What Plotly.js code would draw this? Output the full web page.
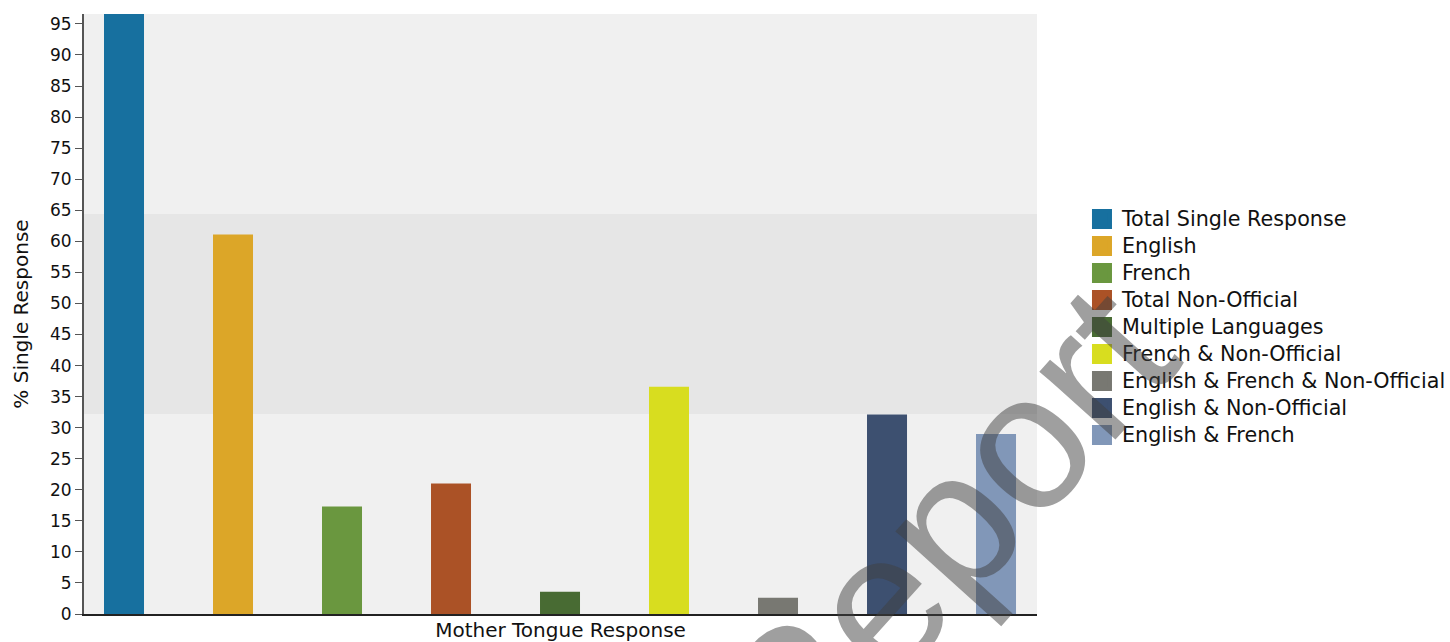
<!DOCTYPE html>
<html>
<head>
<meta charset="utf-8">
<script src="https://cdn.plot.ly/plotly-3.0.1.min.js"></script>
<style>
html,body{margin:0;padding:0;background:#fff;}
#chart{width:1450px;height:642px;}
#chart .legendtext{font-size:20.7px !important;}
#chart .legend .scrollbox{clip-path:none !important;}
</style>
</head>
<body>
<div id="chart"></div>
<script>
// ---- data ----
var categories = [
  "Total Single Response",
  "English",
  "French",
  "Total Non-Official",
  "Multiple Languages",
  "French & Non-Official",
  "English & French & Non-Official",
  "English & Non-Official",
  "English & French"
];
var singleResponsePct = [98.0, 61.1, 17.3, 21.0, 3.6, 36.6, 2.6, 32.1, 29.0];
var barColors = ["#17709f", "#dca628", "#6a973f", "#ab5226", "#486b33", "#d8dd1f", "#787872", "#3d5070", "#8197b8"];
var yTickValues = [0,5,10,15,20,25,30,35,40,45,50,55,60,65,70,75,80,85,90,95];
var xAxisTitle = "Mother Tongue Response";
var yAxisTitle = "% Single Response";
var watermarkText = "Report";

var FONT = "DejaVu Sans, Verdana, sans-serif";
var traces = [];
categories.forEach(function(cat, i){
  traces.push({
    type: "bar",
    x: [cat],
    y: [singleResponsePct[i]],
    name: cat,
    legendgroup: cat,
    showlegend: false,
    width: 0.367,
    marker: {color: barColors[i]},
    hovertemplate: "%{x}: %{y}%<extra></extra>"
  });
});
// legend entries (square swatches like the reference)
categories.forEach(function(cat, i){
  traces.push({
    type: "scatter",
    mode: "markers",
    x: [null],
    y: [null],
    name: cat,
    legendgroup: cat,
    showlegend: true,
    marker: {symbol: "square", size: 16, color: barColors[i], line: {width: 4, color: barColors[i]}},
    hoverinfo: "skip"
  });
});

var layout = {
  width: 1450,
  height: 642,
  margin: {l: 84, r: 413, t: 14, b: 28, autoexpand: false},
  paper_bgcolor: "#ffffff",
  plot_bgcolor: "#f0f0f0",
  barmode: "overlay",
  font: {family: FONT, color: "#111111", size: 17},
  showlegend: true,
  legend: {
    x: 1.0472, xanchor: "left",
    y: 0.4783, yanchor: "middle",
    tracegroupgap: 0,
    font: {family: FONT, size: 18.46, color: "#111111"},
    bgcolor: "rgba(0,0,0,0)"
  },
  xaxis: {
    type: "category",
    categoryorder: "array",
    categoryarray: categories,
    range: [-0.367, 8.376],
    showticklabels: false,
    ticks: "",
    showgrid: false,
    zeroline: false,
    showline: true,
    linecolor: "#222222",
    linewidth: 2,
    title: {text: xAxisTitle, font: {family: FONT, size: 20, color: "#111111"}, standoff: 12}
  },
  yaxis: {
    range: [0, 96.6],
    tickmode: "array",
    tickvals: yTickValues,
    ticktext: yTickValues.map(String),
    ticks: "outside",
    ticklen: 7,
    tickwidth: 1,
    tickcolor: "#555555",
    tickfont: {family: FONT, size: 17, color: "#111111"},
    showgrid: false,
    zeroline: false,
    showline: true,
    linecolor: "#555555",
    linewidth: 2,
    title: {text: yAxisTitle, font: {family: FONT, size: 20, color: "#111111"}, standoff: 16}
  },
  shapes: [{
    type: "rect", xref: "paper", yref: "paper",
    x0: 0, x1: 1, y0: 1/3, y1: 2/3,
    fillcolor: "#e6e6e6", line: {width: 0}, layer: "below"
  }],
  annotations: [{
    text: watermarkText,
    xref: "paper", yref: "paper",
    x: 0.9003, y: 0.1367,
    xanchor: "center", yanchor: "middle",
    textangle: -48,
    showarrow: false,
    font: {family: "Liberation Sans, Arial, sans-serif", size: 193, color: "rgba(64,64,64,0.5)"}
  }]
};

Plotly.newPlot("chart", traces, layout, {displayModeBar: false, responsive: false});
</script>
</body>
</html>
